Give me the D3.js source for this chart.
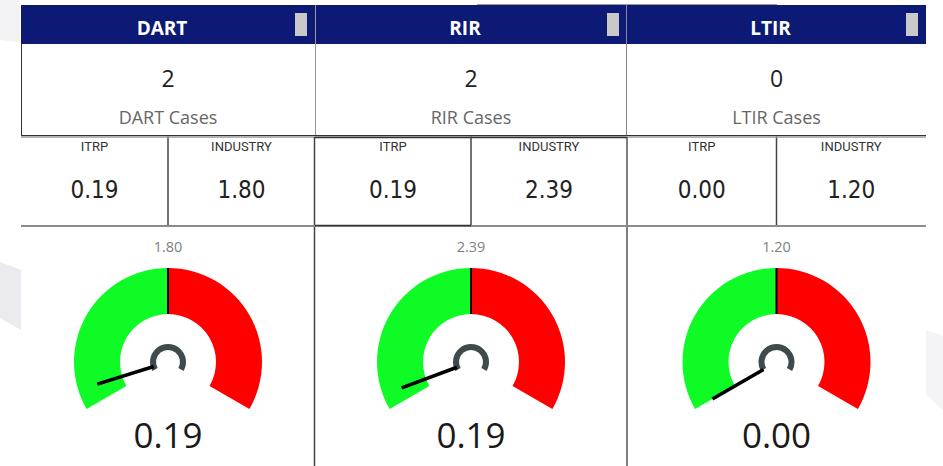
<!DOCTYPE html>
<html>
<head>
<meta charset="utf-8">
<script src="https://cdn.jsdelivr.net/npm/d3@7"></script>
<style>
  body { margin: 0; background: #fff; }
  svg { display: block; }
</style>
</head>
<body>
<div id="vis"></div>
<script>
// data
const metrics = ["DART", "RIR", "LTIR"];
const caseCounts = [2, 2, 0];
const itrpRates = [0.19, 0.19, 0.00];
const industryRates = [1.80, 2.39, 1.20];
const cellLabels = ["ITRP", "INDUSTRY"];

const WIDTH = 943, HEIGHT = 466;
// panel edges (left of each panel + right of last)
const EDGES = [21, 315, 627, 926];
const HEAD = {top: 5, bottom: 44};
const ROW2 = {top: 136, bottom: 226};
const GAUGE = {cy: 362, inner: 48, outer: 94, hub: 15, needleIn: 15, needleOut: 74};

const SEGOE = "'Open Sans', 'Noto Sans', sans-serif";
const DIN = "'DejaVu Sans Condensed', 'Roboto', sans-serif";

const FRAME = d3.select("#vis")
  .append("svg")
    .attr("width", WIDTH)
    .attr("height", HEIGHT);

// faint background shapes
FRAME.append("path")
  .attr("d", "M0,0 L20,0 L20,42 L0,40 Z")
  .attr("fill", "#f3f3f5");
FRAME.append("path")
  .attr("d", "M0,262 L21,270 L21,330 L0,318 Z")
  .attr("fill", "#ebebef");
FRAME.append("path")
  .attr("d", "M926,330 L943,336 L943,410 L926,395 Z")
  .attr("fill", "#f4f4f6");

// thin line above middle header
FRAME.append("line")
  .attr("x1", 477).attr("x2", 777)
  .attr("y1", 4.5).attr("y2", 4.5)
  .attr("stroke", "#9a9a9a");

const panels = FRAME.selectAll("g.panel")
  .data(metrics)
  .enter()
  .append("g")
    .attr("class", "panel");

panels.each(function (m, i) {
  const g = d3.select(this);
  const x0 = EDGES[i], x1 = EDGES[i + 1];
  const cx = (x0 + x1) / 2;
  const w = x1 - x0;

  // header
  g.append("rect")
    .attr("x", x0).attr("y", HEAD.top)
    .attr("width", w).attr("height", HEAD.bottom - HEAD.top)
    .attr("fill", "#0c1975");
  g.append("rect")
    .attr("x", x1 - 20).attr("y", 13)
    .attr("width", 12).attr("height", 23)
    .attr("fill", "#c9c9c9");
  g.append("text")
    .attr("x", cx - 6).attr("y", 35)
    .attr("text-anchor", "middle")
    .attr("font-family", SEGOE)
    .attr("font-weight", "bold")
    .attr("font-size", 19)
    .attr("fill", "#fff")
    .text(m);

  // cases box
  g.append("text")
    .attr("x", cx).attr("y", 87)
    .attr("text-anchor", "middle")
    .attr("font-family", SEGOE)
    .attr("font-size", 23)
    .attr("fill", "#222")
    .text(caseCounts[i]);
  g.append("text")
    .attr("x", cx).attr("y", 124)
    .attr("text-anchor", "middle")
    .attr("font-family", SEGOE)
    .attr("font-size", 18)
    .attr("fill", "#666")
    .text(m + " Cases");

  // second row cells
  const cellX = d3.scaleBand().domain(cellLabels).range([x0, x1]);
  const vals = [itrpRates[i], industryRates[i]];
  cellLabels.forEach((lab, j) => {
    const mx = cellX(lab) + cellX.bandwidth() / 2;
    g.append("text")
      .attr("x", mx).attr("y", 151)
      .attr("text-anchor", "middle")
      .attr("font-family", "Roboto, sans-serif")
      .attr("font-size", 13)
      .attr("fill", "#333")
      .text(lab);
    g.append("text")
      .attr("x", mx).attr("y", 198)
      .attr("text-anchor", "middle")
      .attr("font-family", DIN)
      .attr("font-size", 24)
      .attr("fill", "#222")
      .text(vals[j].toFixed(2));
  });
  g.append("line")
    .attr("x1", cellX(cellLabels[1])).attr("x2", cellX(cellLabels[1]))
    .attr("y1", ROW2.top).attr("y2", ROW2.bottom)
    .attr("stroke", "#444").attr("stroke-width", 1.5);

  // gauge
  const target = industryRates[i];
  const ANGLE = d3.scaleLinear()
    .domain([0, target * 2])
    .range([-2 * Math.PI / 3, 2 * Math.PI / 3])
    .clamp(true);
  const gg = g.append("g")
    .attr("transform", "translate(" + cx + "," + GAUGE.cy + ")");
  const band = d3.arc().innerRadius(GAUGE.inner).outerRadius(GAUGE.outer);
  gg.append("path")
    .attr("d", band({startAngle: ANGLE(0), endAngle: ANGLE(target)}))
    .attr("fill", "#0efb26");
  gg.append("path")
    .attr("d", band({startAngle: ANGLE(target), endAngle: ANGLE(target * 2)}))
    .attr("fill", "#fe0000");

  const pt = (a, r) => [r * Math.sin(a), -r * Math.cos(a)];
  const ta = ANGLE(target);
  gg.append("line")
    .attr("x1", pt(ta, GAUGE.inner)[0]).attr("y1", pt(ta, GAUGE.inner)[1])
    .attr("x2", pt(ta, GAUGE.outer)[0]).attr("y2", pt(ta, GAUGE.outer)[1])
    .attr("stroke", "#000").attr("stroke-width", 2);

  // hub
  gg.append("path")
    .attr("d", d3.arc().innerRadius(GAUGE.hub - 3).outerRadius(GAUGE.hub + 3)
      ({startAngle: -2 * Math.PI / 3, endAngle: 2 * Math.PI / 3}))
    .attr("fill", "#3e4a4e");

  // needle
  const na = ANGLE(itrpRates[i]);
  gg.append("line")
    .attr("x1", pt(na, GAUGE.needleIn)[0]).attr("y1", pt(na, GAUGE.needleIn)[1])
    .attr("x2", pt(na, GAUGE.needleOut)[0]).attr("y2", pt(na, GAUGE.needleOut)[1])
    .attr("stroke", "#000").attr("stroke-width", 3.5);

  g.append("text")
    .attr("x", cx).attr("y", 252)
    .attr("text-anchor", "middle")
    .attr("font-family", SEGOE)
    .attr("font-size", 14.5)
    .attr("fill", "#808080")
    .text(target.toFixed(2));
  g.append("text")
    .attr("x", cx).attr("y", 448)
    .attr("text-anchor", "middle")
    .attr("font-family", SEGOE)
    .attr("font-size", 35)
    .attr("fill", "#1a1a1a")
    .text(itrpRates[i].toFixed(2));
});

// borders
const rule = (x1, y1, x2, y2, c, sw) => FRAME.append("line")
  .attr("x1", x1).attr("y1", y1).attr("x2", x2).attr("y2", y2)
  .attr("stroke", c).attr("stroke-width", sw || 1);

// cases boxes
rule(21.5, HEAD.bottom, 21.5, 136, "#333");
rule(315.5, HEAD.top, 315.5, 136, "#999");
rule(626.5, HEAD.top, 626.5, 136, "#888");
rule(21, 135.5, 926, 135.5, "#333");
rule(21, 137, 926, 137, "#9a9a9a", 1.5);
// second row
rule(314.5, 137, 314.5, HEIGHT, "#444", 1.5);
rule(627, 137, 627, HEIGHT, "#555", 1.5);
rule(315, 137.5, 627, 137.5, "#333", 1.5);
rule(21, 226, 926, 226, "#8c8c8c", 2);
rule(315, 225.5, 471, 225.5, "#333", 1.5);
</script>
</body>
</html>
